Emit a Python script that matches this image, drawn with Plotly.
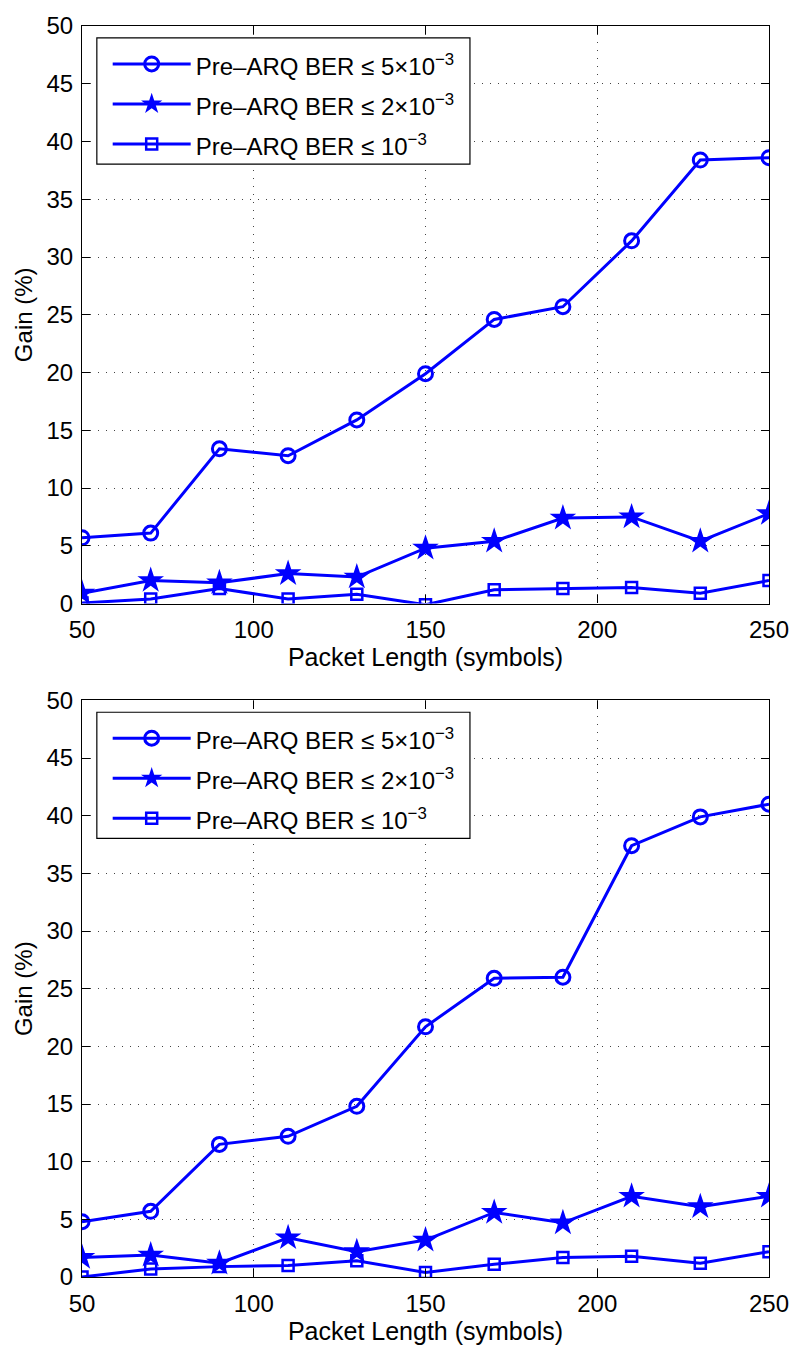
import plotly.graph_objects as go

x = [50, 70, 90, 110, 130, 150, 170, 190, 210, 230, 250]

top_5e3 = [5.7, 6.1, 13.4, 12.8, 15.9, 19.9, 24.6, 25.7, 31.4, 38.4, 38.6]
top_2e3 = [0.9, 2.0, 1.8, 2.6, 2.3, 4.8, 5.4, 7.4, 7.5, 5.4, 7.8]
top_1e3 = [0.05, 0.4, 1.3, 0.4, 0.8, -0.1, 1.2, 1.3, 1.4, 0.9, 2.0]

bot_5e3 = [4.8, 5.7, 11.5, 12.2, 14.8, 21.7, 25.9, 26.0, 37.4, 39.9, 41.0]
bot_2e3 = [1.7, 1.9, 1.2, 3.4, 2.2, 3.2, 5.6, 4.7, 7.0, 6.1, 7.0]
bot_1e3 = [0.0, 0.7, 0.9, 1.0, 1.4, 0.4, 1.1, 1.7, 1.8, 1.2, 2.2]

names = ["Pre\u2013ARQ BER \u2264 5\u00d710<sup>\u22123</sup>",
         "Pre\u2013ARQ BER \u2264 2\u00d710<sup>\u22123</sup>",
         "Pre\u2013ARQ BER \u2264 10<sup>\u22123</sup>"]

xticks = [50, 100, 150, 200, 250]
yticks = [0, 5, 10, 15, 20, 25, 30, 35, 40, 45, 50]

BLUE = "#0000ff"
FONT = "Liberation Sans, Arial, sans-serif"

fig = go.Figure()

def add_series(ys, xa, ya, leg):
    syms = [("circle-open", 14, 3), ("star", 20, 0), ("square-open", 11, 2.5)]
    for y, name, (sym, sz, lw) in zip(ys, names, syms):
        fig.add_trace(go.Scatter(
            x=x, y=y, mode="lines+markers",
            name='<span style="font-size:24px">' + name + '</span>',
            xaxis=xa, yaxis=ya, legend=leg,
            line=dict(color=BLUE, width=3),
            marker=dict(symbol=sym, size=sz, color=BLUE,
                        line=dict(color=BLUE, width=lw)),
        ))

add_series([top_5e3, top_2e3, top_1e3], "x", "y", "legend")
add_series([bot_5e3, bot_2e3, bot_1e3], "x2", "y2", "legend2")

axis_common = dict(
    showline=True, linecolor="black", linewidth=1.2, mirror="ticks",
    ticks="inside", ticklen=8, tickcolor="black", tickwidth=1,
    showgrid=True, gridcolor="#444444", griddash="1px,7px", gridwidth=1,
    zeroline=False, tickfont=dict(family=FONT, size=24, color="black"),
)
xaxis_common = dict(range=[50, 250], tickvals=xticks, ticklabelstandoff=5,
                    title=dict(text="Packet Length (symbols)",
                               font=dict(family=FONT, size=25), standoff=5),
                    **axis_common)
yaxis_common = dict(range=[0, 50], tickvals=yticks, ticklabelstandoff=3,
                    title=dict(text="Gain (%)",
                               font=dict(family=FONT, size=24), standoff=6),
                    **axis_common)

legend_common = dict(
    xanchor="left", yanchor="top",
    borderwidth=0, bgcolor="rgba(0,0,0,0)",
    font=dict(family=FONT, size=28.5, color="black"),
    itemwidth=78, tracegroupgap=0,
)

box = dict(type="rect", x0=0.0216, x1=0.5647, y0=0.7607, y1=0.9795,
           line=dict(color="black", width=1.2), fillcolor="white", layer="above")

fig.update_layout(
    width=801, height=1351,
    margin=dict(l=82, r=23, t=17, b=67),
    paper_bgcolor="white", plot_bgcolor="white",
    font=dict(family=FONT, color="black"),
    showlegend=True,
    xaxis=dict(domain=[0, 1], anchor="y", **xaxis_common),
    yaxis=dict(domain=[0.5383, 1], anchor="x", **yaxis_common),
    xaxis2=dict(domain=[0, 1], anchor="y2", **xaxis_common),
    yaxis2=dict(domain=[0, 0.4609], anchor="x2", **yaxis_common),
    legend=dict(x=0.0374, y=0.9897, **legend_common),
    legend2=dict(x=0.0374, y=0.4507, **legend_common),
    shapes=[dict(xref="x domain", yref="y domain", **box),
            dict(xref="x2 domain", yref="y2 domain", **box)],
)

fig.write_html("out.html")
